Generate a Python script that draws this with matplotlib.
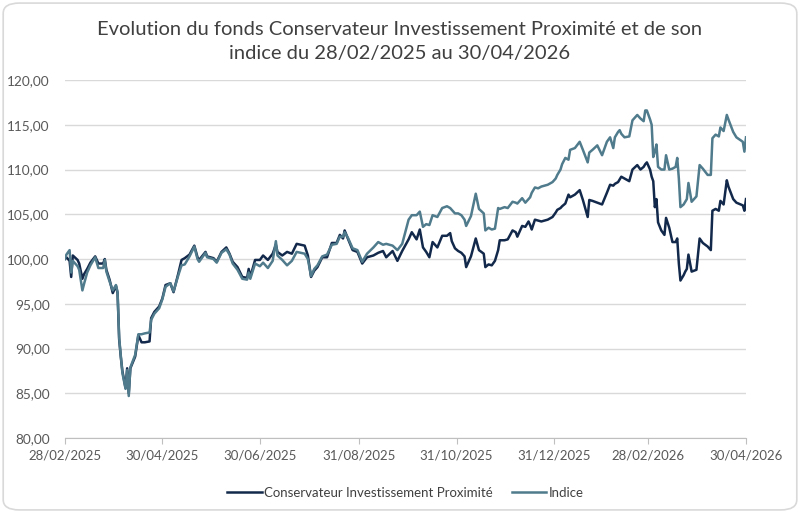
import numpy as np
import pandas as pd
import matplotlib
matplotlib.use("Agg")
import matplotlib.pyplot as plt
from matplotlib.patches import FancyBboxPatch
from matplotlib.ticker import FuncFormatter

# jours depuis le 28/02/2025
jours = [0, 1, 3, 4, 5, 8, 9, 11, 12, 14, 16, 19, 21, 24, 25, 26, 28, 30, 32, 33,
         34, 35, 36, 38, 39, 40, 41, 44, 46, 48, 50, 53, 54, 56, 59, 61, 63, 66, 68, 71,
         73, 75, 78, 81, 83, 84, 88, 89, 93, 95, 98, 101, 103, 105, 108, 111, 114, 115, 116, 119,
         122, 124, 127, 130, 132, 133, 136, 139, 142, 145, 150, 152, 154, 156, 158, 161, 164, 167, 170, 172,
         174, 175, 177, 180, 183, 186, 189, 193, 196, 199, 201, 205, 208, 211, 215, 217, 220, 222, 224, 226,
         228, 230, 233, 236, 239, 241, 242, 244, 246, 248, 250, 251, 254, 257, 259, 262, 263, 265, 267, 269,
         271, 272, 275, 277, 280, 282, 283, 286, 288, 290, 291, 292, 294, 296, 298, 302, 305, 307, 308, 310,
         311, 313, 315, 316, 319, 322, 324, 327, 328, 330, 333, 336, 339, 341, 343, 344, 346, 347, 348, 350,
         353, 355, 358, 360, 362, 363, 364, 366, 367, 368, 369, 370, 371, 373, 375, 376, 378, 380, 382, 383,
         384, 385, 387, 388, 389, 390, 392, 395, 397, 399, 402, 404, 405, 407, 409, 410, 412, 414, 415, 418,
         420, 424, 425, 426]

fonds = [100.0, 100.2, 99.8, 98.0, 100.4, 99.9, 99.5, 97.8, 98.3, 98.9, 99.6, 100.3, 99.5, 99.5, 100.0, 98.8, 97.7, 96.2, 97.0, 96.2,
         91.0, 89.1, 87.5, 85.6, 87.8, 85.0, 87.8, 89.1, 91.5, 90.7, 90.7, 90.8, 93.4, 94.1, 94.7, 95.6, 97.1, 97.3, 96.3, 98.4,
         99.9, 100.1, 100.5, 101.5, 100.2, 99.9, 100.8, 100.3, 100.1, 99.7, 100.8, 101.3, 100.6, 99.7, 99.1, 98.0, 97.9, 98.9, 98.0, 99.9,
         99.9, 100.4, 99.9, 100.6, 101.6, 100.8, 100.4, 100.8, 100.6, 101.7, 101.5, 100.4, 98.0, 98.7, 99.1, 100.2, 100.2, 101.8, 101.8, 102.7,
         102.3, 103.2, 102.3, 101.0, 100.8, 99.5, 100.2, 100.4, 100.7, 100.9, 100.2, 100.9, 99.8, 100.9, 102.2, 103.0, 102.2, 103.3, 101.3, 100.8,
         100.2, 101.9, 101.3, 102.6, 102.6, 102.9, 102.0, 101.2, 100.9, 100.7, 100.3, 99.1, 100.3, 102.3, 101.0, 100.6, 99.1, 99.4, 99.3, 99.8,
         101.0, 102.1, 102.1, 102.2, 103.2, 103.0, 102.5, 103.7, 103.6, 104.2, 103.8, 103.3, 104.4, 104.3, 104.2, 104.4, 104.7, 105.2, 105.5, 105.7,
         105.9, 106.2, 107.2, 106.9, 107.2, 107.7, 106.6, 104.7, 106.6, 106.5, 106.3, 106.1, 107.4, 108.3, 108.2, 108.4, 108.6, 108.9, 109.2, 109.0,
         108.7, 110.0, 110.5, 110.0, 110.3, 110.6, 110.8, 110.0, 109.2, 108.7, 105.8, 106.7, 104.1, 103.2, 102.7, 104.6, 103.5, 101.9, 101.9, 102.3,
         99.5, 97.6, 98.2, 98.6, 98.9, 100.5, 98.6, 98.8, 102.3, 101.8, 101.4, 101.0, 105.4, 105.6, 105.4, 106.5, 106.1, 108.8, 108.1, 106.7,
         106.3, 106.0, 105.4, 106.7]

indice = [100.0, 100.5, 101.0, 98.5, 99.8, 99.2, 98.8, 96.5, 97.2, 98.5, 99.3, 100.2, 99.0, 99.0, 99.9, 98.6, 97.5, 96.5, 97.1, 96.3,
          91.2, 89.3, 87.3, 85.5, 87.6, 84.7, 87.9, 89.3, 91.6, 91.6, 91.7, 91.8, 93.2, 93.9, 94.5, 95.5, 96.9, 97.3, 96.4, 98.2,
          99.3, 99.4, 100.3, 101.4, 100.0, 99.7, 100.7, 100.2, 100.0, 99.6, 100.7, 101.1, 100.5, 99.5, 98.8, 97.8, 97.7, 98.5, 97.8, 99.5,
          99.2, 99.6, 99.0, 99.8, 102.0, 100.4, 99.9, 99.3, 99.8, 100.8, 100.6, 100.0, 98.1, 98.9, 99.3, 100.3, 100.5, 101.6, 101.7, 102.5,
          102.5, 103.0, 102.4, 101.2, 101.0, 99.7, 100.6, 101.3, 101.9, 101.6, 101.7, 101.5, 101.0, 101.7, 104.4, 104.9, 104.9, 105.3, 103.6, 103.9,
          103.8, 104.9, 104.7, 105.7, 105.9, 105.7, 105.5, 105.1, 105.1, 104.9, 104.4, 103.7, 104.8, 107.3, 105.6, 105.1, 103.2, 103.5, 103.3, 103.4,
          105.7, 105.6, 105.8, 105.7, 106.4, 106.3, 106.2, 106.8, 106.3, 106.7, 106.9, 107.4, 108.0, 107.9, 108.1, 108.3, 108.6, 109.0, 109.4, 110.0,
          110.6, 111.3, 111.1, 112.2, 112.4, 113.1, 112.2, 110.8, 111.9, 112.2, 112.7, 111.6, 113.1, 113.6, 112.4, 113.6, 114.2, 114.4, 114.0, 113.6,
          113.7, 115.5, 116.1, 115.7, 115.4, 116.6, 116.6, 115.6, 115.0, 111.4, 112.0, 112.8, 110.3, 110.0, 110.0, 111.6, 110.0, 110.1, 110.3, 111.3,
          109.0, 105.8, 106.1, 106.4, 106.7, 108.5, 106.4, 107.0, 110.5, 110.1, 109.4, 109.4, 113.5, 113.9, 113.7, 114.7, 114.3, 116.1, 115.6, 114.2,
          113.6, 113.1, 112.0, 113.6]

tick_dates = ["28/02/2025", "30/04/2025", "30/06/2025", "31/08/2025",
              "31/10/2025", "31/12/2025", "28/02/2026", "30/04/2026"]

titre = "Evolution du fonds Conservateur Investissement Proximité et de son\nindice du 28/02/2025 au 30/04/2026"

plt.rcParams["font.family"] = ["Lato", "DejaVu Sans"]

debut = pd.Timestamp("2025-02-28")
dates = debut + pd.to_timedelta(jours, unit="D")
ticks = pd.to_datetime(tick_dates, format="%d/%m/%Y")

fig = plt.figure(figsize=(8, 5.13), dpi=100)
# cadre arrondi
fig.patches.append(FancyBboxPatch((0.004, 0.006), 0.992, 0.988,
                                  boxstyle="round,pad=0,rounding_size=0.02",
                                  transform=fig.transFigure, fc="white",
                                  ec="#D9D9D9", lw=1.2, zorder=-1))
ax = fig.add_axes([0.081, 0.146, 0.8515, 0.698])
ax.set_facecolor("none")

ax.plot(dates, fonds, color="#13294B", lw=1.8, label="Conservateur Investissement Proximité", zorder=2)
ax.plot(dates, indice, color="#4F7B8C", lw=1.8, label="Indice", zorder=3)

ax.set_ylim(80, 120)
ax.set_yticks(np.arange(80, 121, 5))
ax.yaxis.set_major_formatter(FuncFormatter(lambda v, p: f"{v:.2f}".replace(".", ",")))
ax.set_xlim(dates[0], dates[-1])
ax.set_xticks(ticks)
ax.set_xticklabels(tick_dates)

ax.grid(axis="y", color="#D9D9D9", lw=1)
ax.set_axisbelow(True)
for s in ["top", "right", "left"]:
    ax.spines[s].set_visible(False)
ax.spines["bottom"].set_color("#BFBFBF")
ax.tick_params(axis="y", length=0, labelsize=9.8, labelcolor="#595959", pad=11)
ax.tick_params(axis="x", length=4, color="#BFBFBF", labelsize=9.5, labelcolor="#595959", pad=4)

fig.text(0.5, 0.92, titre, ha="center", va="center", fontsize=14.5, color="#404040",
         linespacing=1.5)

leg = ax.legend(loc="center", bbox_to_anchor=(0.5, -0.152), ncol=2, frameon=False,
                fontsize=9.5, handlelength=2.6, columnspacing=1.4, handletextpad=0.2)
for t in leg.get_texts():
    t.set_color("#404040")

fig.savefig("out.png", dpi=100)
